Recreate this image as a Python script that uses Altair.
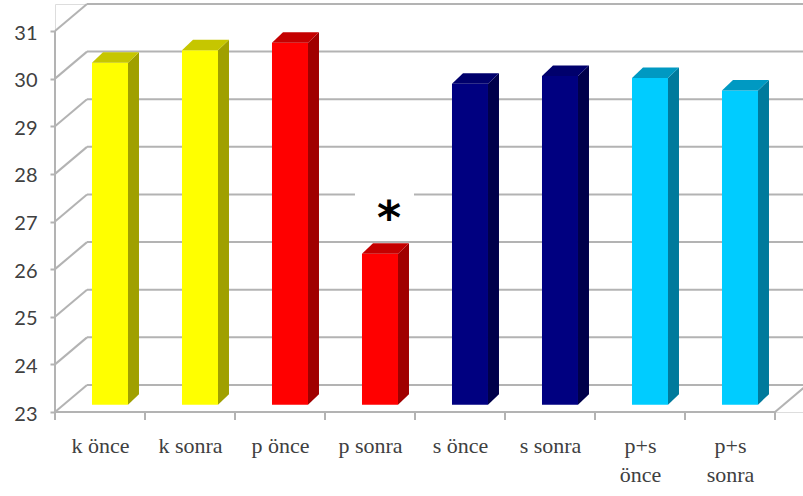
import altair as alt
import pandas as pd

# ---------------- data ----------------
categories = ["k önce", "k sonra", "p önce", "p sonra",
              "s önce", "s sonra", "p+s önce", "p+s sonra"]
label_lines = [["k önce"], ["k sonra"], ["p önce"], ["p sonra"],
               ["s önce"], ["s sonra"], ["p+s", "önce"], ["p+s", "sonra"]]
values = [30.18, 30.44, 30.60, 26.17, 29.74, 29.90, 29.86, 29.60]
front_colors = ["#FFFF00", "#FFFF00", "#FF0000", "#FF0000",
                "#000080", "#000080", "#00CCFF", "#00CCFF"]
side_colors = ["#A0A000", "#A0A000", "#A00000", "#A00000",
               "#00004A", "#00004A", "#007A9C", "#007A9C"]
top_colors = ["#C6C600", "#C6C600", "#C40000", "#C40000",
              "#00006C", "#00006C", "#0099C2", "#0099C2"]
y_ticks = [23, 24, 25, 26, 27, 28, 29, 30, 31]
star_text = "*"
star_index = 3

# ---------------- geometry (style) ----------------
W, H = 748, 408
PX_X = 90.0                 # pixels per category
Y0 = 23
PX_Y = 47.62                # pixels per unit
DX, DY = 32 / PX_X, 27 / PX_Y          # depth of the 3D box
YMAX = 31 + DY
XMAX = W / PX_X
BAR_L, BAR_W = 0.411, 0.40
LIFT = 7.3 / PX_Y
SX, SY = 11 / PX_X, 10.5 / PX_Y
GRID = "#b3b3b3"
n = len(categories)

xs = alt.Scale(domain=[0, XMAX], nice=False, zero=False)
ys = alt.Scale(domain=[Y0, YMAX], nice=False, zero=False)

label_js = "[" + ",".join("[" + ",".join("'" + s + "'" for s in l) + "]" for l in label_lines) + "]"
x_axis = alt.Axis(values=[i + 0.5 for i in range(n)], labelExpr=label_js + "[floor(datum.value)]",
                  ticks=False, domain=False, grid=False, title=None,
                  labelFont="Liberation Serif", labelFontSize=22, labelColor="#404040",
                  labelPadding=23, labelLineHeight=29, labelAngle=0)
y_axis = alt.Axis(values=y_ticks, domain=False, grid=False, title=None,
                  tickSize=5, tickColor=GRID, tickWidth=2,
                  labelFont="Lato", labelFontSize=20, labelColor="#404040",
                  labelPadding=13, labelOffset=2)

# back wall gridlines
back = pd.DataFrame({"x": DX, "x2": XMAX + 0.2, "y": [v + DY for v in y_ticks]})
back_l = alt.Chart(back).mark_rule(color=GRID, strokeWidth=2).encode(
    x=alt.X("x:Q", scale=xs, axis=x_axis), x2="x2:Q",
    y=alt.Y("y:Q", scale=ys, axis=y_axis))

# left wall diagonals
left = pd.DataFrame({"x": 0.0, "y": y_ticks, "x2": DX, "y2": [v + DY for v in y_ticks]})
left_l = alt.Chart(left).mark_rule(color=GRID, strokeWidth=2).encode(
    x=alt.X("x:Q", scale=xs, axis=x_axis), x2="x2:Q",
    y=alt.Y("y:Q", scale=ys, axis=y_axis), y2="y2:Q")

# floor edges and front axis line
edges = pd.DataFrame({
    "x": [0.0, float(n), 0.0],
    "y": [Y0, Y0, Y0],
    "x2": [float(n), n + DX, 0.0],
    "y2": [Y0, Y0 + DY, 31],
})
edge_l = alt.Chart(edges).mark_rule(color=GRID, strokeWidth=2).encode(
    x=alt.X("x:Q", scale=xs, axis=x_axis), x2="x2:Q",
    y=alt.Y("y:Q", scale=ys, axis=y_axis), y2="y2:Q")

# category boundary ticks
ticks = pd.DataFrame({"x": [float(i) for i in range(n + 1)], "y": Y0 - 8 / PX_Y, "y2": Y0})
tick_l = alt.Chart(ticks).mark_rule(color=GRID, strokeWidth=2).encode(
    x=alt.X("x:Q", scale=xs, axis=x_axis),
    y=alt.Y("y:Q", scale=ys, axis=y_axis), y2="y2:Q")

# bar front faces
front = pd.DataFrame({
    "cat": categories,
    "x": [i + BAR_L for i in range(n)],
    "x2": [i + BAR_L + BAR_W for i in range(n)],
    "y": [Y0 + LIFT] * n,
    "y2": [v + LIFT for v in values],
    "c": front_colors,
})
front_l = alt.Chart(front).mark_rect().encode(
    x=alt.X("x:Q", scale=xs, axis=x_axis), x2="x2:Q",
    y=alt.Y("y:Q", scale=ys, axis=y_axis), y2="y2:Q",
    color=alt.Color("c:N", scale=None))

# bar side faces (parallelograms)
side_rows = []
for i, (cat, v, c) in enumerate(zip(categories, values, side_colors)):
    xr = i + BAR_L + BAR_W
    side_rows.append({"cat": cat, "x": xr, "lo": Y0 + LIFT, "hi": v + LIFT, "c": c})
    side_rows.append({"cat": cat, "x": xr + SX, "lo": Y0 + LIFT + SY, "hi": v + LIFT + SY, "c": c})
side_l = alt.Chart(pd.DataFrame(side_rows)).mark_area(orient="vertical", opacity=1).encode(
    x=alt.X("x:Q", scale=xs, axis=x_axis),
    y=alt.Y("hi:Q", scale=ys, axis=y_axis, stack=None), y2="lo:Q",
    detail="cat:N", color=alt.Color("c:N", scale=None))

# bar top faces
top_rows = []
for i, (cat, v, c) in enumerate(zip(categories, values, top_colors)):
    xl, xr = i + BAR_L, i + BAR_L + BAR_W
    top_rows.append({"cat": cat, "y": v + LIFT, "xl": xl, "xr": xr, "c": c})
    top_rows.append({"cat": cat, "y": v + LIFT + SY, "xl": xl + SX, "xr": xr + SX, "c": c})
top_l = alt.Chart(pd.DataFrame(top_rows)).mark_area(orient="horizontal", opacity=1).encode(
    y=alt.Y("y:Q", scale=ys, axis=y_axis),
    x=alt.X("xl:Q", scale=xs, axis=x_axis, stack=None), x2="xr:Q",
    detail="cat:N", color=alt.Color("c:N", scale=None))

# annotation: white box + star over "p sonra"
box = pd.DataFrame({"x": [star_index + 0.333], "x2": [star_index + 0.989],
                    "y": [27.81], "y2": [26.65]})
box_l = alt.Chart(box).mark_rect(color="white").encode(
    x=alt.X("x:Q", scale=xs, axis=x_axis), x2="x2:Q",
    y=alt.Y("y:Q", scale=ys, axis=y_axis), y2="y2:Q")
star = pd.DataFrame({"x": [star_index + 0.711], "y": [27.04], "t": [star_text]})
star_l = alt.Chart(star).mark_text(font="DejaVu Sans", fontWeight="bold", fontSize=46,
                                   color="black", baseline="middle", align="center").encode(
    x=alt.X("x:Q", scale=xs, axis=x_axis),
    y=alt.Y("y:Q", scale=ys, axis=y_axis), text="t:N")

chart = alt.layer(back_l, left_l, edge_l, tick_l, front_l, side_l, top_l, box_l, star_l).properties(
    width=W, height=H,
    autosize=alt.AutoSizeParams(type="none"),
    padding={"left": 55, "top": 4, "right": 0, "bottom": 84},
).configure_view(stroke=None).configure(background="white")

chart.save("out.html", embed_options={"renderer": "svg", "actions": False})
